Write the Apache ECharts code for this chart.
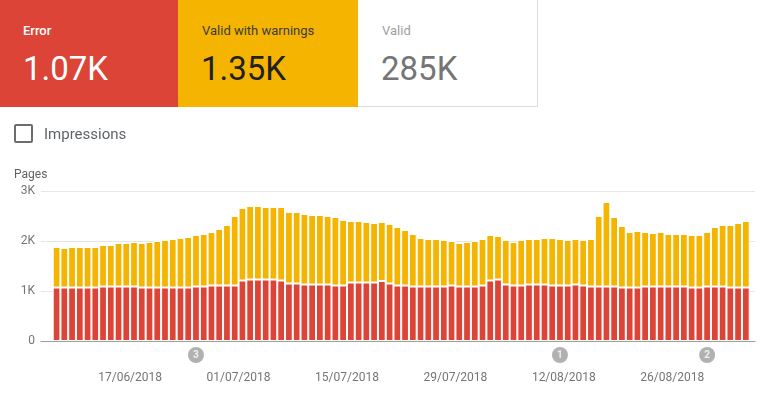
<!DOCTYPE html>
<html>
<head>
<meta charset="utf-8">
<script src="https://cdn.jsdelivr.net/npm/echarts@6/dist/echarts.min.js"></script>
<style>
  body { margin: 0; background: #fff; font-family: Roboto, "Noto Sans", sans-serif; }
  #chart { position: absolute; left: 0; top: 0; width: 765px; height: 397px; }
  .card { position: absolute; top: 0; height: 107px; width: 180px; box-sizing: border-box; z-index: 2; }
  .card .lbl { position: absolute; left: 24px; top: 24px; font-size: 13px; line-height: 13px; }
  .card .num { position: absolute; left: 23px; top: 52px; font-size: 33px; line-height: 33px; }
  .chk { position: absolute; left: 14px; top: 124px; width: 19px; height: 19px; box-sizing: border-box;
         border: 2px solid #6d6d6d; border-radius: 2px; z-index: 2; }
  .chk-lbl { position: absolute; left: 44px; top: 127px; font-size: 15px; line-height: 15px; color: #5f6368; z-index: 2; }
</style>
</head>
<body>
<div id="chart"></div>

<div class="card" style="left:0;width:178px;background:#db4437;color:#fff">
  <div class="lbl" style="left:23px;font-weight:500">Error</div>
  <div class="num">1.07K</div>
</div>
<div class="card" style="left:178px;background:#f4b400;color:#212121">
  <div class="lbl" style="color:#3c3c3c">Valid with warnings</div>
  <div class="num">1.35K</div>
</div>
<div class="card" style="left:358px;background:#fff;border-right:1px solid #dadce0;border-bottom:1px solid #dadce0">
  <div class="lbl" style="color:#9e9e9e">Valid</div>
  <div class="num" style="color:#757575">285K</div>
</div>
<div class="chk"></div>
<div class="chk-lbl">Impressions</div>

<script>
// pages per day, stacked: error (red) under valid-with-warnings (yellow)
const errorPages = [
  1070, 1070, 1070, 1070, 1070, 1070, 1090, 1090, 1090, 1090,
  1090, 1070, 1070, 1070, 1070, 1070, 1070, 1070, 1090, 1090,
  1110, 1110, 1110, 1110, 1210, 1230, 1230, 1230, 1230, 1210,
  1150, 1150, 1130, 1130, 1130, 1130, 1110, 1110, 1170, 1170,
  1170, 1170, 1200, 1150, 1110, 1110, 1090, 1090, 1090, 1090,
  1090, 1110, 1090, 1090, 1090, 1110, 1210, 1230, 1130, 1110,
  1110, 1130, 1130, 1130, 1110, 1110, 1110, 1130, 1110, 1090,
  1090, 1090, 1090, 1070, 1070, 1070, 1090, 1090, 1090, 1090,
  1090, 1090, 1070, 1070, 1090, 1090, 1090, 1070, 1070, 1070
];
const warningPages = [
  810, 790, 810, 810, 810, 810, 830, 830, 870, 870,
  890, 890, 910, 930, 950, 970, 990, 1010, 1030, 1050,
  1070, 1130, 1210, 1390, 1450, 1470, 1470, 1450, 1450, 1470,
  1430, 1430, 1410, 1390, 1390, 1370, 1370, 1310, 1230, 1230,
  1210, 1190, 1180, 1190, 1170, 1110, 1050, 970, 950, 950,
  930, 890, 870, 890, 910, 930, 910, 870, 890, 870,
  910, 910, 910, 930, 950, 930, 910, 910, 910, 950,
  1410, 1690, 1390, 1230, 1110, 1130, 1090, 1070, 1090, 1050,
  1050, 1050, 1050, 1050, 1090, 1190, 1230, 1250, 1290, 1330
];

// one bar per day starting 08/06/2018
const firstDay = Date.UTC(2018, 5, 8);
const days = errorPages.map((_, i) => {
  const d = new Date(firstDay + i * 86400000);
  const dd = String(d.getUTCDate()).padStart(2, '0');
  const mm = String(d.getUTCMonth() + 1).padStart(2, '0');
  return dd + '/' + mm + '/' + d.getUTCFullYear();
});

const xTickLabels = ['17/06/2018', '01/07/2018', '15/07/2018', '29/07/2018', '12/08/2018', '26/08/2018'];
const yTickLabels = ['0', '1K', '2K', '3K'];

// annotation markers under the axis
const noteDays = ['26/06/2018', '12/08/2018', '31/08/2018'];
const noteLabels = ['3', '1', '2'];

const RED = '#db4437';
const YELLOW = '#f4b400';

var myChart = echarts.init(document.getElementById('chart'));

const option = {
  animation: false,
  textStyle: { fontFamily: 'Roboto' },
  title: {
    text: 'Pages',
    left: 14,
    top: 169,
    padding: 0,
    textStyle: { fontSize: 12, fontWeight: 'normal', color: '#616161' }
  },
  grid: [
    // bars
    { left: 52.7, right: 15.3, top: 191, bottom: 56 },
    // gridlines, y labels, baseline
    { left: 41, right: 10, top: 191, bottom: 56 },
    // annotation markers
    { left: 52.7, right: 15.3, top: 348, height: 14 }
  ],
  xAxis: [
    {
      type: 'category',
      gridIndex: 0,
      data: days,
      axisLine: { show: false },
      axisTick: { show: false },
      axisLabel: {
        interval: (idx, val) => xTickLabels.includes(val),
        color: '#757575',
        fontSize: 12,
        margin: 31,
        padding: [0, 0, 0, 7.7]
      }
    },
    {
      type: 'value',
      gridIndex: 1,
      axisLine: { show: true, lineStyle: { color: '#9e9e9e', width: 1 } },
      axisTick: { show: false },
      axisLabel: { show: false },
      splitLine: { show: false }
    },
    {
      type: 'category',
      gridIndex: 2,
      data: days,
      show: false
    }
  ],
  yAxis: [
    { type: 'value', gridIndex: 0, min: 0, max: 3000, show: false },
    {
      type: 'value',
      gridIndex: 1,
      min: 0,
      max: 3000,
      interval: 1000,
      axisLine: { show: false },
      axisTick: { show: false },
      axisLabel: {
        color: '#757575',
        fontSize: 12,
        margin: 6,
        formatter: v => yTickLabels[v / 1000]
      },
      splitLine: { lineStyle: { color: '#e6e6e6' } }
    },
    { type: 'value', gridIndex: 2, min: -1, max: 1, show: false }
  ],
  series: [
    {
      name: 'Error',
      type: 'bar',
      xAxisIndex: 0,
      yAxisIndex: 0,
      stack: 'pages',
      barCategoryGap: '0%',
      itemStyle: { color: RED, borderColor: '#fff', borderWidth: 1 },
      data: errorPages
    },
    {
      name: 'Valid with warnings',
      type: 'bar',
      xAxisIndex: 0,
      yAxisIndex: 0,
      stack: 'pages',
      barCategoryGap: '0%',
      itemStyle: { color: YELLOW, borderColor: '#fff', borderWidth: 1 },
      data: warningPages
    },
    {
      type: 'scatter',
      xAxisIndex: 2,
      yAxisIndex: 2,
      symbolSize: 16,
      itemStyle: { color: '#9e9e9e' },
      label: {
        show: true,
        position: 'inside',
        color: '#fff',
        fontSize: 10,
        fontWeight: 'bold',
        formatter: p => noteLabels[p.dataIndex]
      },
      data: noteDays.map(d => [d, 0])
    }
  ]
};

option && myChart.setOption(option);
</script>
</body>
</html>
